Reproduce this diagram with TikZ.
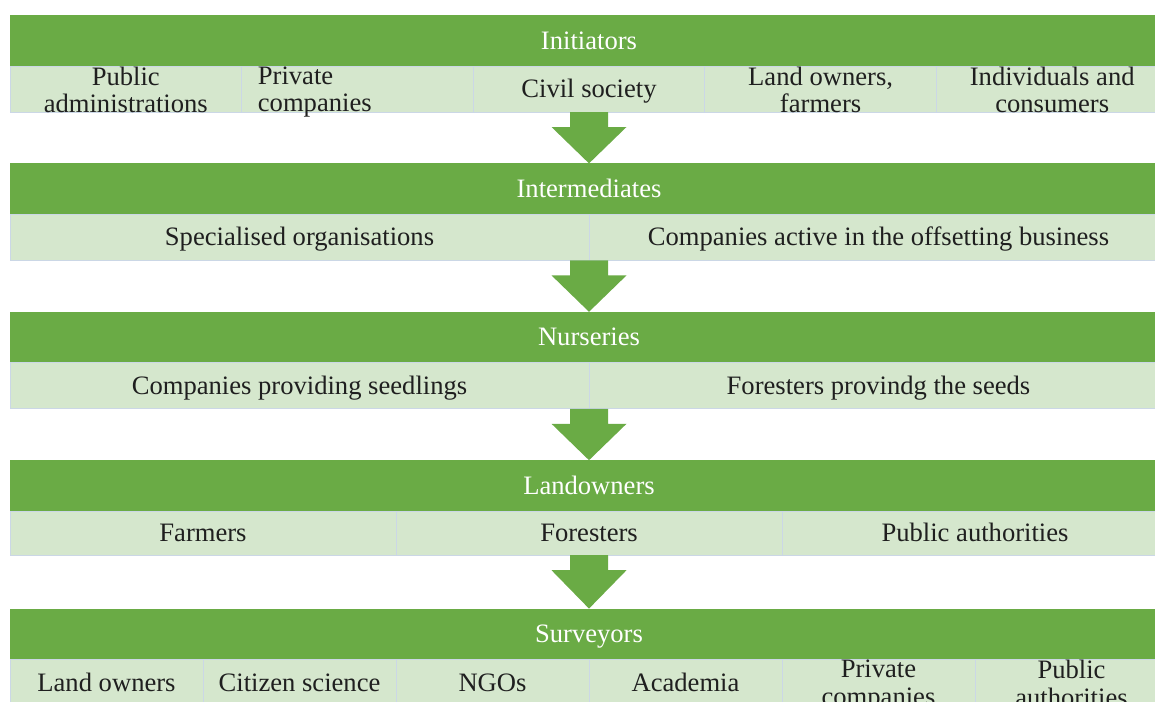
\documentclass[tikz,border=0pt]{standalone}
\usepackage{fontspec}
\setmainfont{Liberation Serif}
\usepackage{xcolor}
\usepackage{tikz}
\usetikzlibrary{positioning,calc}

\definecolor{hdrgreen}{HTML}{6AAB45}
\definecolor{cellgreen}{HTML}{D5E7CD}
\definecolor{cellline}{HTML}{CBD7E6}
\definecolor{celltext}{HTML}{1F1F1F}

\tikzset{
  header/.style={rectangle, fill=hdrgreen, text=white, inner sep=0pt, outer sep=0pt,
    minimum width=1158pt, minimum height=51pt, anchor=north west,
    text height=18.5pt, text depth=1.5pt, font=\fontsize{26.6}{27}\selectfont},
  cell/.style={rectangle, fill=cellgreen, draw=cellline, line width=1pt, inner sep=0pt,
    outer sep=0pt, minimum height=46pt, text=celltext,
    text height=18.5pt, text depth=1.5pt, font=\fontsize{26.6}{27}\selectfont},
  twoline/.style={inner sep=0pt, align=center, text=celltext, yshift=-1pt,
    font=\fontsize{26.6}{27.5}\selectfont},
  blockarrow/.style={fill=hdrgreen, draw=none,
    to path={($(\tikztostart)+(-19,0)$) -- ($(\tikztostart)+(19,0)$)
      -- ($(\tikztostart)+(19,15)$) -- ($(\tikztostart)+(37.5,15)$)
      -- (\tikztotarget) -- ($(\tikztostart)+(-37.5,15)$)
      -- ($(\tikztostart)+(-19,15)$) -- cycle}}
}

\begin{document}
\begin{tikzpicture}[x=1pt, y=-1pt]
\useasboundingbox (0,0) rectangle (1155,701);

% Initiators
\node[header] (ini) at (10,15) {Initiators};
\node[cell, minimum width=231.6pt, anchor=north west] (ini1) at (ini.south west) {};
\node[cell, minimum width=231.6pt, right=0pt of ini1] (ini2) {};
\node[cell, minimum width=231.6pt, right=0pt of ini2] (ini3) {Civil society};
\node[cell, minimum width=231.6pt, right=0pt of ini3] (ini4) {};
\node[cell, minimum width=231.6pt, right=0pt of ini4] (ini5) {};
\node[twoline] at (ini1) {Public\\administrations};
\node[twoline, yshift=-2pt, text width=199pt, align=left] at (ini2) {Private\\companies};
\node[twoline] at (ini4) {Land owners,\\farmers};
\node[twoline] at (ini5) {Individuals and\\consumers};

% Intermediates
\node[header] (int) at (10,163.4) {Intermediates};
\node[cell, minimum width=579pt, anchor=north west] (int1) at (int.south west) {Specialised organisations};
\node[cell, minimum width=579pt, right=0pt of int1] (int2) {Companies active in the offsetting business};

% Nurseries
\node[header] (nur) at (10,311.8) {Nurseries};
\node[cell, minimum width=579pt, anchor=north west] (nur1) at (nur.south west) {Companies providing seedlings};
\node[cell, minimum width=579pt, right=0pt of nur1] (nur2) {Foresters provindg the seeds};

% Landowners
\node[header] (lan) at (10,460.2) {Landowners};
\node[cell, minimum width=386pt, minimum height=44pt, anchor=north west] (lan1) at (lan.south west) {Farmers};
\node[cell, minimum width=386pt, minimum height=44pt, right=0pt of lan1] (lan2) {Foresters};
\node[cell, minimum width=386pt, minimum height=44pt, right=0pt of lan2] (lan3) {Public authorities};

% Surveyors
\node[header] (sur) at (10,608.6) {Surveyors};
\node[cell, minimum width=193pt, anchor=north west] (sur1) at (sur.south west) {Land owners};
\node[cell, minimum width=193pt, right=0pt of sur1] (sur2) {Citizen science};
\node[cell, minimum width=193pt, right=0pt of sur2] (sur3) {NGOs};
\node[cell, minimum width=193pt, right=0pt of sur3] (sur4) {Academia};
\node[cell, minimum width=193pt, right=0pt of sur4] (sur5) {};
\node[cell, minimum width=193pt, right=0pt of sur5] (sur6) {};
\node[twoline, yshift=-2pt] at (sur5) {Private\\companies};
\node[twoline] at (sur6) {Public\\authorities};

% Arrows
\path[blockarrow] (ini3.south) to (int.north);
\path[blockarrow] (int1.south east) to (nur.north);
\path[blockarrow] (nur1.south east) to (lan.north);
\path[blockarrow] (lan2.south) to (sur.north);

\end{tikzpicture}
\end{document}
